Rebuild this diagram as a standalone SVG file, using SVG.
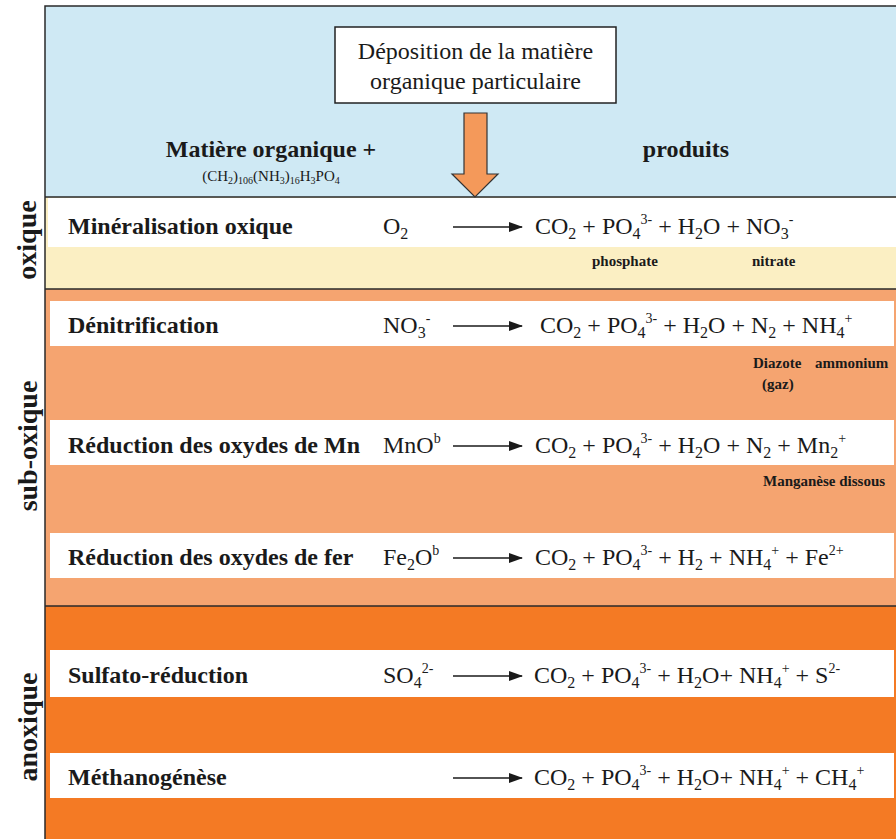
<svg xmlns="http://www.w3.org/2000/svg" width="896" height="839" viewBox="0 0 896 839">
<style>
  text { font-family: "Liberation Serif", "Times New Roman", serif; fill: #1a1a1a; }
  .zone { font-size: 28px; font-weight: bold; }
  .title { font-size: 24px; font-weight: bold; }
  .eq { font-size: 24px; }
  .s { font-size: 16px; }
  .p { font-size: 14px; }
  .note { font-size: 15px; font-weight: bold; }
  .frame { stroke: #2a2a2a; stroke-width: 1.5; fill: none; }
  .rx { stroke: #1a1a1a; stroke-width: 1.5; fill: none; marker-end: url(#ah); }
  .band { fill: #ffffff; }
</style>
<defs>
  <marker id="ah" viewBox="0 0 14 10" refX="13" refY="5" markerWidth="14" markerHeight="10" markerUnits="userSpaceOnUse" orient="auto">
    <path d="M0,0 L14,5 L0,10 Z" fill="#1a1a1a"/>
  </marker>
</defs>
<rect x="0" y="0" width="896" height="839" fill="#ffffff"/>
<!-- zones -->
<g id="zone-surface">
  <rect x="45" y="6" width="851" height="191" fill="#cfe9f4"/>
</g>
<g id="zone-oxique">
  <rect x="45" y="197" width="851" height="92" fill="#fbefc3"/>
  <rect class="band" x="48" y="198" width="848" height="49"/>
  <text class="zone" transform="translate(36,240) rotate(-90)" text-anchor="middle">oxique</text>
</g>
<g id="zone-suboxique">
  <rect x="45" y="289" width="851" height="317" fill="#f5a470"/>
  <rect class="band" x="50" y="301" width="844" height="45"/>
  <rect class="band" x="50" y="420" width="844" height="45"/>
  <rect class="band" x="50" y="533" width="844" height="45"/>
  <text class="zone" transform="translate(37,446) rotate(-90)" text-anchor="middle">sub-oxique</text>
</g>
<g id="zone-anoxique">
  <rect x="45" y="606" width="851" height="233" fill="#f47a24"/>
  <rect class="band" x="50" y="650" width="844" height="47"/>
  <rect class="band" x="50" y="753" width="844" height="45"/>
  <text class="zone" transform="translate(37,727) rotate(-90)" text-anchor="middle">anoxique</text>
</g>
<g id="frame">
  <path class="frame" d="M45,839 L45,6 L896,6 M45,197 L896,197 M45,289 L896,289 M45,606 L896,606"/>
</g>
<!-- header -->
<g id="node-deposition">
  <rect x="335" y="27" width="281" height="76" fill="#ffffff" stroke="#222" stroke-width="1.5"/>
  <text class="eq" x="475.5" y="59" text-anchor="middle">Déposition de la matière</text>
  <text class="eq" x="475.5" y="89" text-anchor="middle">organique particulaire</text>
</g>
<g id="node-matiere">
  <text class="title" x="271" y="157" text-anchor="middle">Matière organique +</text>
  <text x="271" y="181" text-anchor="middle" font-size="15">(CH<tspan font-size="10" dy="3">2</tspan><tspan dy="-3">)</tspan><tspan font-size="10" dy="3">106</tspan><tspan dy="-3">(NH</tspan><tspan font-size="10" dy="3">3</tspan><tspan dy="-3">)</tspan><tspan font-size="10" dy="3">16</tspan><tspan dy="-3">H</tspan><tspan font-size="10" dy="3">3</tspan><tspan dy="-3">PO</tspan><tspan font-size="10" dy="3">4</tspan></text>
</g>
<g id="node-produits">
  <text class="title" x="686" y="157" text-anchor="middle">produits</text>
</g>
<!-- rows -->
<g id="node-mineralisation">
  <text class="title" x="68" y="234">Minéralisation oxique</text>
  <text class="eq" x="383" y="234">O<tspan class="s" dy="5">2</tspan></text>
  <text class="eq" x="535" y="234">CO<tspan class="s" dy="5">2</tspan><tspan dy="-5"> + PO</tspan><tspan class="s" dy="5">4</tspan><tspan class="p" dy="-15">3-</tspan><tspan dy="10"> + H</tspan><tspan class="s" dy="5">2</tspan><tspan dy="-5">O + NO</tspan><tspan class="s" dy="5">3</tspan><tspan class="p" dy="-15">-</tspan></text>
  <text class="note" x="592" y="266">phosphate</text>
  <text class="note" x="752" y="266">nitrate</text>
</g>
<g id="node-denitrification">
  <text class="title" x="68" y="333">Dénitrification</text>
  <text class="eq" x="383" y="333">NO<tspan class="s" dy="5">3</tspan><tspan class="p" dy="-15">-</tspan></text>
  <text class="eq" x="540" y="333">CO<tspan class="s" dy="5">2</tspan><tspan dy="-5"> + PO</tspan><tspan class="s" dy="5">4</tspan><tspan class="p" dy="-15">3-</tspan><tspan dy="10"> + H</tspan><tspan class="s" dy="5">2</tspan><tspan dy="-5">O + N</tspan><tspan class="s" dy="5">2</tspan><tspan dy="-5"> + NH</tspan><tspan class="s" dy="5">4</tspan><tspan class="p" dy="-15">+</tspan></text>
  <text class="note" x="753" y="368">Diazote<tspan x="815">ammonium</tspan></text>
  <text class="note" x="762" y="389">(gaz)</text>
</g>
<g id="node-reduction-mn">
  <text class="title" x="68" y="453">Réduction des oxydes de Mn</text>
  <text class="eq" x="383" y="453">MnO<tspan class="p" dy="-10">b</tspan></text>
  <text class="eq" x="535" y="453">CO<tspan class="s" dy="5">2</tspan><tspan dy="-5"> + PO</tspan><tspan class="s" dy="5">4</tspan><tspan class="p" dy="-15">3-</tspan><tspan dy="10"> + H</tspan><tspan class="s" dy="5">2</tspan><tspan dy="-5">O + N</tspan><tspan class="s" dy="5">2</tspan><tspan dy="-5"> + Mn</tspan><tspan class="s" dy="5">2</tspan><tspan class="p" dy="-15">+</tspan></text>
  <text class="note" x="763" y="486">Manganèse dissous</text>
</g>
<g id="node-reduction-fer">
  <text class="title" x="68" y="565">Réduction des oxydes de fer</text>
  <text class="eq" x="383" y="565">Fe<tspan class="s" dy="5">2</tspan><tspan dy="-5">O</tspan><tspan class="p" dy="-10">b</tspan></text>
  <text class="eq" x="535" y="565">CO<tspan class="s" dy="5">2</tspan><tspan dy="-5"> + PO</tspan><tspan class="s" dy="5">4</tspan><tspan class="p" dy="-15">3-</tspan><tspan dy="10"> + H</tspan><tspan class="s" dy="5">2</tspan><tspan dy="-5"> + NH</tspan><tspan class="s" dy="5">4</tspan><tspan class="p" dy="-15">+</tspan><tspan dy="10"> + Fe</tspan><tspan class="p" dy="-10">2+</tspan></text>
</g>
<g id="node-sulfato">
  <text class="title" x="68" y="683">Sulfato-réduction</text>
  <text class="eq" x="383" y="683">SO<tspan class="s" dy="5">4</tspan><tspan class="p" dy="-15">2-</tspan></text>
  <text class="eq" x="534" y="683">CO<tspan class="s" dy="5">2</tspan><tspan dy="-5"> + PO</tspan><tspan class="s" dy="5">4</tspan><tspan class="p" dy="-15">3-</tspan><tspan dy="10"> + H</tspan><tspan class="s" dy="5">2</tspan><tspan dy="-5">O+ NH</tspan><tspan class="s" dy="5">4</tspan><tspan class="p" dy="-15">+</tspan><tspan dy="10"> + S</tspan><tspan class="p" dy="-10">2-</tspan></text>
</g>
<g id="node-methanogenese">
  <text class="title" x="68" y="785">Méthanogénèse</text>
  <text class="eq" x="534" y="785">CO<tspan class="s" dy="5">2</tspan><tspan dy="-5"> + PO</tspan><tspan class="s" dy="5">4</tspan><tspan class="p" dy="-15">3-</tspan><tspan dy="10"> + H</tspan><tspan class="s" dy="5">2</tspan><tspan dy="-5">O+ NH</tspan><tspan class="s" dy="5">4</tspan><tspan class="p" dy="-15">+</tspan><tspan dy="10"> + CH</tspan><tspan class="s" dy="5">4</tspan><tspan class="p" dy="-15">+</tspan></text>
</g>
<!-- connectors -->
<g id="connectors">
  <polygon id="arrow-deposition" points="464,113 487,113 487,174 498,174 475,197 452,174 464,174" fill="#f4995a" stroke="#333" stroke-width="1.2" stroke-linejoin="miter"/>
  <line class="rx" x1="453" y1="227" x2="522" y2="227"/>
  <line class="rx" x1="453" y1="326" x2="522" y2="326"/>
  <line class="rx" x1="453" y1="446" x2="522" y2="446"/>
  <line class="rx" x1="453" y1="558" x2="522" y2="558"/>
  <line class="rx" x1="453" y1="676" x2="522" y2="676"/>
  <line class="rx" x1="453" y1="778" x2="522" y2="778"/>
</g>
</svg>
